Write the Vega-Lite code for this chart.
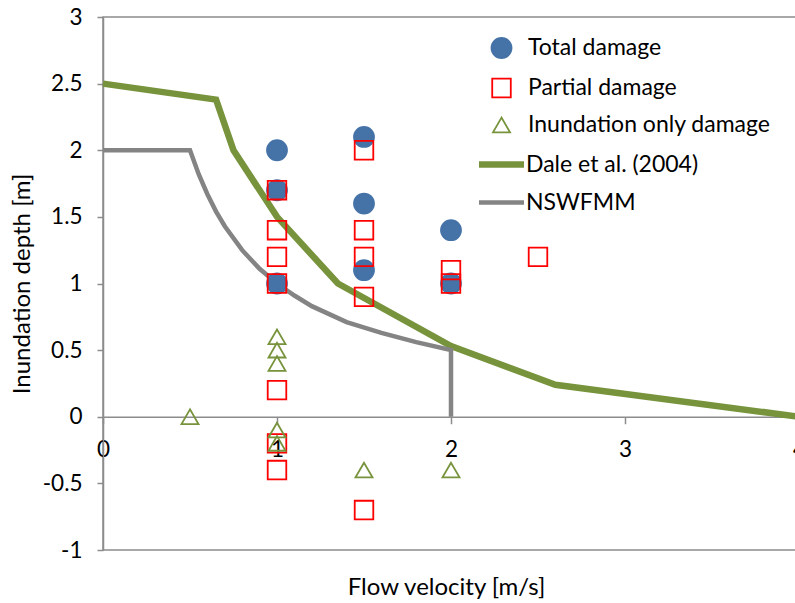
{
  "$schema": "https://vega.github.io/schema/vega-lite/v6.json",
  "width": 696,
  "height": 533,
  "autosize": {"type": "none"},
  "padding": {"left": 103, "top": 17, "right": 0, "bottom": 53},
  "background": "white",
  "config": {
    "font": "Lato",
    "view": {"stroke": "#8C8C8C", "strokeWidth": 1.5},
    "axis": {
      "grid": false,
      "domainColor": "#8C8C8C",
      "domainWidth": 1.5,
      "tickColor": "#8C8C8C",
      "tickWidth": 1.5,
      "labelColor": "#000000",
      "labelFont": "Lato",
      "labelFontSize": 22.5,
      "labelFlush": false,
      "labelOverlap": false,
      "titleColor": "#000000",
      "titleFont": "Lato",
      "titleFontSize": 24,
      "titleFontWeight": "normal"
    },
    "legend": {
      "labelFont": "Lato",
      "labelFontSize": 23,
      "labelColor": "#000000",
      "labelLimit": 0,
      "padding": 0,
      "symbolStrokeWidth": 1.8
    }
  },
  "datasets": {
    "observations": [
      {"v": 1.0, "d": 2.0, "type": "Total damage"},
      {"v": 1.0, "d": 1.7, "type": "Total damage"},
      {"v": 1.0, "d": 1.0, "type": "Total damage"},
      {"v": 1.5, "d": 2.1, "type": "Total damage"},
      {"v": 1.5, "d": 1.6, "type": "Total damage"},
      {"v": 1.5, "d": 1.1, "type": "Total damage"},
      {"v": 2.0, "d": 1.4, "type": "Total damage"},
      {"v": 2.0, "d": 1.0, "type": "Total damage"},
      {"v": 1.0, "d": 1.7, "type": "Partial damage"},
      {"v": 1.0, "d": 1.4, "type": "Partial damage"},
      {"v": 1.0, "d": 1.2, "type": "Partial damage"},
      {"v": 1.0, "d": 1.0, "type": "Partial damage"},
      {"v": 1.0, "d": 0.2, "type": "Partial damage"},
      {"v": 1.0, "d": -0.2, "type": "Partial damage"},
      {"v": 1.0, "d": -0.4, "type": "Partial damage"},
      {"v": 1.5, "d": 2.0, "type": "Partial damage"},
      {"v": 1.5, "d": 1.4, "type": "Partial damage"},
      {"v": 1.5, "d": 1.2, "type": "Partial damage"},
      {"v": 1.5, "d": 0.9, "type": "Partial damage"},
      {"v": 1.5, "d": -0.7, "type": "Partial damage"},
      {"v": 2.0, "d": 1.1, "type": "Partial damage"},
      {"v": 2.0, "d": 1.0, "type": "Partial damage"},
      {"v": 2.5, "d": 1.2, "type": "Partial damage"},
      {"v": 0.5, "d": 0.0, "type": "Inundation only damage"},
      {"v": 1.0, "d": 0.6, "type": "Inundation only damage"},
      {"v": 1.0, "d": 0.5, "type": "Inundation only damage"},
      {"v": 1.0, "d": 0.4, "type": "Inundation only damage"},
      {"v": 1.0, "d": -0.1, "type": "Inundation only damage"},
      {"v": 1.0, "d": -0.2, "type": "Inundation only damage"},
      {"v": 1.5, "d": -0.4, "type": "Inundation only damage"},
      {"v": 2.0, "d": -0.4, "type": "Inundation only damage"}
    ],
    "curves": [
      {"i": 0, "v": 0.0, "d": 2.5, "curve": "Dale et al. (2004)"},
      {"i": 1, "v": 0.65, "d": 2.38, "curve": "Dale et al. (2004)"},
      {"i": 2, "v": 0.75, "d": 2.0, "curve": "Dale et al. (2004)"},
      {"i": 3, "v": 1.0, "d": 1.5, "curve": "Dale et al. (2004)"},
      {"i": 4, "v": 1.35, "d": 1.0, "curve": "Dale et al. (2004)"},
      {"i": 5, "v": 2.0, "d": 0.53, "curve": "Dale et al. (2004)"},
      {"i": 6, "v": 2.6, "d": 0.24, "curve": "Dale et al. (2004)"},
      {"i": 7, "v": 4.0, "d": 0.0, "curve": "Dale et al. (2004)"},
      {"i": 0, "v": 0.0, "d": 2.0, "curve": "NSWFMM"},
      {"i": 1, "v": 0.5, "d": 2.0, "curve": "NSWFMM"},
      {"i": 2, "v": 0.55, "d": 1.82, "curve": "NSWFMM"},
      {"i": 3, "v": 0.6, "d": 1.67, "curve": "NSWFMM"},
      {"i": 4, "v": 0.65, "d": 1.54, "curve": "NSWFMM"},
      {"i": 5, "v": 0.7, "d": 1.43, "curve": "NSWFMM"},
      {"i": 6, "v": 0.8, "d": 1.25, "curve": "NSWFMM"},
      {"i": 7, "v": 0.9, "d": 1.11, "curve": "NSWFMM"},
      {"i": 8, "v": 1.0, "d": 1.0, "curve": "NSWFMM"},
      {"i": 9, "v": 1.1, "d": 0.91, "curve": "NSWFMM"},
      {"i": 10, "v": 1.2, "d": 0.83, "curve": "NSWFMM"},
      {"i": 11, "v": 1.4, "d": 0.71, "curve": "NSWFMM"},
      {"i": 12, "v": 1.6, "d": 0.63, "curve": "NSWFMM"},
      {"i": 13, "v": 1.8, "d": 0.56, "curve": "NSWFMM"},
      {"i": 14, "v": 2.0, "d": 0.5, "curve": "NSWFMM"},
      {"i": 15, "v": 2.0, "d": 0.0, "curve": "NSWFMM"}
    ]
  },
  "encoding": {
    "x": {
      "field": "v",
      "type": "quantitative",
      "scale": {"domain": [0, 4], "nice": false, "zero": false},
      "axis": {
        "title": "Flow velocity [m/s]",
        "values": [0, 1, 2, 3, 4],
        "labelExpr": "toString(datum.value)",
        "offset": -133.25,
        "tickSize": 7,
        "labelPadding": 26,
        "labelBaseline": "middle",
        "titleX": 343,
        "titleY": 171,
        "titleBaseline": "middle",
        "titleAnchor": "middle"
      }
    },
    "y": {
      "field": "d",
      "type": "quantitative",
      "scale": {"domain": [-1, 3], "nice": false, "zero": false},
      "axis": {
        "title": "Inundation depth [m]",
        "values": [-1, -0.5, 0, 0.5, 1, 1.5, 2, 2.5, 3],
        "labelExpr": "toString(datum.value)",
        "tickSize": 6,
        "labelPadding": 15,
        "titleAngle": -90,
        "titleX": -81,
        "titleY": 266.5,
        "titleAlign": "center",
        "titleBaseline": "middle"
      }
    }
  },
  "layer": [
    {
      "data": {"name": "curves"},
      "mark": {"type": "line", "strokeJoin": "miter", "strokeCap": "butt"},
      "encoding": {
        "order": {"field": "i", "type": "quantitative"},
        "color": {
          "field": "curve",
          "type": "nominal",
          "scale": {"domain": ["Dale et al. (2004)", "NSWFMM"], "range": ["#77933C", "#848484"]},
          "legend": {
            "title": null,
            "orient": "none",
            "legendX": 372.5,
            "legendY": 121.5,
            "symbolType": "stroke",
            "symbolSize": 2025,
            "labelOffset": -1.5,
            "rowPadding": -10
          }
        },
        "strokeWidth": {
          "field": "curve",
          "type": "nominal",
          "scale": {"domain": ["Dale et al. (2004)", "NSWFMM"], "range": [6.5, 4.5]},
          "legend": {
            "title": null,
            "orient": "none",
            "legendX": 372.5,
            "legendY": 121.5,
            "symbolType": "stroke",
            "symbolSize": 2025,
            "labelOffset": -1.5,
            "rowPadding": -10
          }
        }
      }
    },
    {
      "data": {"name": "observations"},
      "mark": {"type": "point", "filled": true, "opacity": 1, "strokeWidth": 1.8},
      "encoding": {
        "shape": {
          "field": "type",
          "type": "nominal",
          "scale": {"domain": ["Total damage", "Partial damage", "Inundation only damage"], "range": ["circle", "square", "triangle-up"]},
          "legend": {
            "title": null,
            "orient": "none",
            "legendX": 387,
            "legendY": 19.5,
            "labelOffset": 15,
            "rowPadding": 12
          }
        },
        "fill": {
          "field": "type",
          "type": "nominal",
          "scale": {"domain": ["Total damage", "Partial damage", "Inundation only damage"], "range": ["#4572A7", "transparent", "transparent"]},
          "legend": {
            "title": null,
            "orient": "none",
            "legendX": 387,
            "legendY": 19.5,
            "labelOffset": 15,
            "rowPadding": 12
          }
        },
        "stroke": {
          "field": "type",
          "type": "nominal",
          "scale": {"domain": ["Total damage", "Partial damage", "Inundation only damage"], "range": ["#4572A7", "#FF0000", "#77933C"]},
          "legend": {
            "title": null,
            "orient": "none",
            "legendX": 387,
            "legendY": 19.5,
            "labelOffset": 15,
            "rowPadding": 12
          }
        },
        "size": {
          "field": "type",
          "type": "nominal",
          "scale": {"domain": ["Total damage", "Partial damage", "Inundation only damage"], "range": [400, 289, 324]},
          "legend": {
            "title": null,
            "orient": "none",
            "legendX": 387,
            "legendY": 19.5,
            "labelOffset": 15,
            "rowPadding": 12
          }
        }
      }
    }
  ]
}
